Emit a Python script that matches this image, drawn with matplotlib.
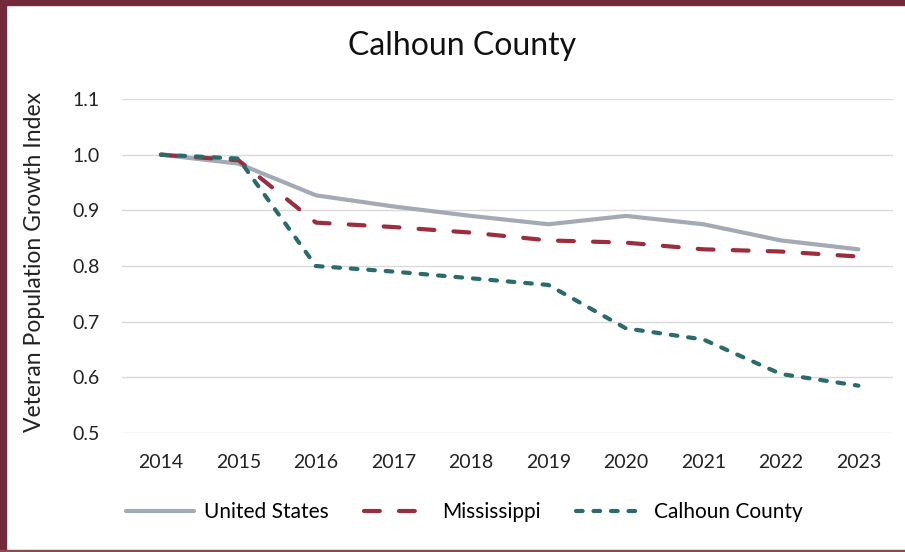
import matplotlib.pyplot as plt
from matplotlib.patches import Rectangle

years = [2014, 2015, 2016, 2017, 2018, 2019, 2020, 2021, 2022, 2023]
united_states = [1.0, 0.984, 0.927, 0.907, 0.89, 0.875, 0.89, 0.875, 0.846, 0.83]
mississippi = [1.0, 0.99, 0.878, 0.87, 0.86, 0.846, 0.842, 0.83, 0.826, 0.817]
calhoun = [1.0, 0.993, 0.80, 0.79, 0.778, 0.766, 0.688, 0.668, 0.606, 0.585]
yticks = [0.5, 0.6, 0.7, 0.8, 0.9, 1.0, 1.1]

plt.rcParams['font.family'] = ['Lato', 'DejaVu Sans']

fig = plt.figure(figsize=(9.05, 5.52), dpi=100)
ax = fig.add_axes([0.135, 0.2156, 0.852, 0.605])

ax.plot(years, united_states, color='#a3aab3', lw=3, label='United States',
        solid_capstyle='round')
ax.plot(years, mississippi, color='#9b2d3f', lw=3, label='Mississippi',
        dashes=(3.8, 4.6), dash_capstyle='round')
ax.plot(years, calhoun, color='#2a6b6b', lw=3, label='Calhoun County',
        dashes=(1.6, 2.6), dash_capstyle='round')

ax.set_ylim(0.5, 1.1)
ax.set_xlim(2013.5, 2023.45)
ax.set_yticks(yticks)
ax.set_yticklabels([f'{v:.1f}' for v in yticks])
ax.set_xticks(years)
ax.yaxis.grid(True, color='#d9d9d9', lw=1)
ax.set_axisbelow(True)
for s in ax.spines.values():
    s.set_visible(False)
ax.tick_params(length=0, labelsize=14, colors='#222222')
ax.tick_params(axis='y', pad=16)
ax.tick_params(axis='x', pad=15)

fig.text(35 / 905, 0.5245, 'Veteran Population Growth Index', rotation=90,
         ha='center', va='center', fontsize=16.5, color='#222222')
fig.text(0.511, 0.917, 'Calhoun County', ha='center', va='center', fontsize=23, color='#111111')

fig.legend(loc='center', bbox_to_anchor=(0.513, 0.0725), ncol=3, frameon=False,
           fontsize=15, handlelength=3.3, columnspacing=1.7, handletextpad=0.45)

# maroon frame on left, top and bottom
fig.patches.append(Rectangle((0, 0), 6 / 905, 1, transform=fig.transFigure, color='#722a3a'))
fig.patches.append(Rectangle((0, 1 - 5 / 552), 1, 5 / 552, transform=fig.transFigure, color='#722a3a'))
fig.patches.append(Rectangle((0, 0), 1, 2 / 552, transform=fig.transFigure, color='#8a4a55'))

fig.savefig('out.png', dpi=100)
